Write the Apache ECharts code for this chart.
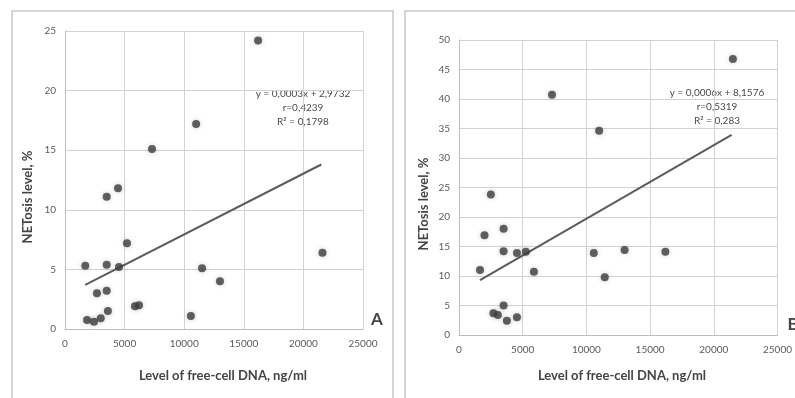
<!DOCTYPE html>
<html>
<head>
<meta charset="utf-8">
<script src="https://cdn.jsdelivr.net/npm/echarts@6/dist/echarts.min.js"></script>
<style>
  html, body { margin: 0; padding: 0; background: #fff; }
  #chart { width: 795px; height: 398px; }
</style>
</head>
<body>
<div id="chart"></div>
<script>
// panel A: free-cell DNA (ng/ml) vs NETosis level (%)
const dnaA = [16200, 11000, 7300, 4450, 3500, 5200, 1700, 3500, 4530, 11500, 13000, 21600, 2680, 3500, 3600, 5870, 6210, 1850, 2430, 3000, 10560];
const netA = [24.2, 17.2, 15.1, 11.8, 11.1, 7.2, 5.3, 5.4, 5.2, 5.1, 4.0, 6.4, 3.0, 3.2, 1.5, 1.9, 2.0, 0.75, 0.6, 0.9, 1.1];
const trendXA = [1700, 21500];
const trendYA = [3.7, 13.8];

// panel B
const dnaB = [21500, 7300, 11000, 2500, 2000, 3500, 1650, 3500, 4550, 5250, 5880, 10580, 11440, 13000, 16200, 3500, 2700, 3050, 3760, 4550];
const netB = [46.8, 40.7, 34.6, 23.8, 16.9, 18.0, 11.0, 14.2, 13.9, 14.1, 10.7, 13.9, 9.8, 14.4, 14.1, 5.0, 3.7, 3.4, 2.4, 3.0];
const trendXB = [1650, 21400];
const trendYB = [9.3, 33.9];

const xTicks = [0, 5000, 10000, 15000, 20000, 25000];
const eqA = ['y = 0,0003x + 2,9732', 'r=0,4239', 'R² = 0,1798'];
const eqB = ['y = 0,0006x + 8,1576', 'r=0,5319', 'R² = 0,283'];

const font = 'Lato, "Open Sans", sans-serif';
const gridColor = '#d2d2d2';

function pairs(xs, ys) {
  return xs.map((x, i) => [x, ys[i]]);
}

function xAxisFor(gridIndex) {
  return {
    type: 'value', gridIndex, min: xTicks[0], max: xTicks[xTicks.length - 1], interval: 5000,
    axisLine: { show: true, lineStyle: { color: '#bdbdbd' } },
    axisTick: { show: false },
    splitLine: { show: true, lineStyle: { color: gridColor, width: 1 } },
    axisLabel: {
      color: '#5a5a5a', fontSize: 10, fontFamily: font, margin: 10, showMaxLabel: true,
      formatter: (v) => String(v)
    }
  };
}

function yAxisFor(gridIndex, max) {
  return {
    type: 'value', gridIndex, min: 0, max, interval: 5,
    axisLine: { show: true, lineStyle: { color: '#bdbdbd' } },
    axisTick: { show: false },
    splitLine: { show: true, lineStyle: { color: gridColor, width: 1 } },
    axisLabel: { color: '#5a5a5a', fontSize: 10, fontFamily: font, margin: 9 }
  };
}

function scatter(idx, xs, ys) {
  return {
    type: 'scatter', xAxisIndex: idx, yAxisIndex: idx,
    data: pairs(xs, ys), symbolSize: 8,
    itemStyle: { color: '#3c3c3c', shadowBlur: 5, shadowColor: 'rgba(0,0,0,0.25)' },
    z: 3
  };
}

function trend(idx, xs, ys) {
  return {
    type: 'line', xAxisIndex: idx, yAxisIndex: idx,
    data: pairs(xs, ys), showSymbol: false,
    lineStyle: { color: '#5c5c5c', width: 2 }, z: 2
  };
}

function eqText(lines, cx, top) {
  return lines.map((t, i) => ({
    type: 'text', x: cx, y: top + i * 14,
    style: { text: t, fill: '#4a4a4a', font: '10px ' + font, align: 'center', verticalAlign: 'middle' }
  }));
}

function label(text, x, y, rotation, size) {
  return {
    type: 'text', x, y, rotation: rotation || 0,
    style: { text, fill: '#444', font: 'bold ' + (size || 13) + 'px ' + font, align: 'center', verticalAlign: 'middle' }
  };
}

const chart = echarts.init(document.getElementById('chart'), null, { renderer: 'canvas' });

chart.setOption({
  animation: false,
  backgroundColor: '#fff',
  grid: [
    { left: 65, top: 31, width: 298, height: 298 },
    { left: 459, top: 40, width: 319, height: 295 }
  ],
  xAxis: [xAxisFor(0), xAxisFor(1)],
  yAxis: [yAxisFor(0, 25), yAxisFor(1, 50)],
  series: [
    trend(0, trendXA, trendYA),
    scatter(0, dnaA, netA),
    trend(1, trendXB, trendYB),
    scatter(1, dnaB, netB)
  ],
  graphic: [
    { type: 'rect', shape: { x: 12, y: 11, width: 381, height: 400 }, style: { fill: 'none', stroke: '#c8c8c8', lineWidth: 1.5 }, z: -1 },
    { type: 'rect', shape: { x: 405, y: 11, width: 400, height: 400 }, style: { fill: 'none', stroke: '#c8c8c8', lineWidth: 1.5 }, z: -1 },
    ...eqText(eqA, 303, 94),
    ...eqText(eqB, 717, 93),
    label('Level of free-cell DNA, ng/ml', 223, 376),
    label('Level of free-cell DNA, ng/ml', 622, 376),
    label('NETosis level, %', 28, 197, Math.PI / 2),
    label('NETosis level, %', 424, 204, Math.PI / 2),
    label('A', 377, 320, 0, 17),
    label('B', 793, 325, 0, 17)
  ]
});
</script>
</body>
</html>
